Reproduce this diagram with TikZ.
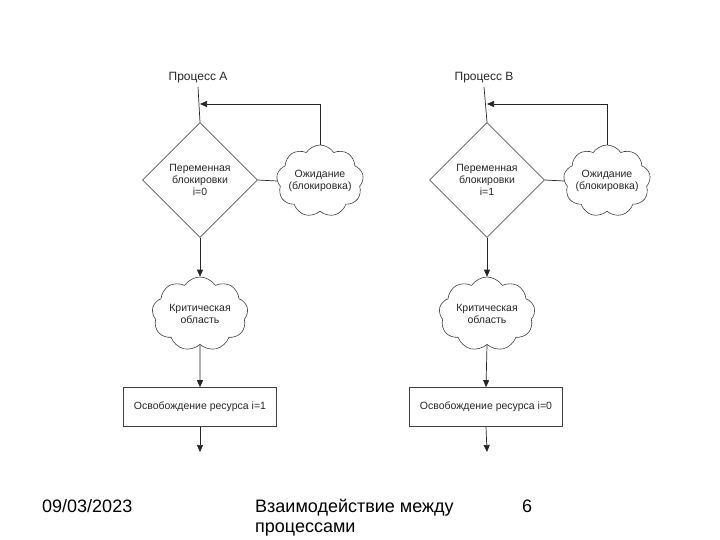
\documentclass[tikz,border=0pt]{standalone}
\usepackage{fontspec}
\setmainfont{Liberation Sans}
\usetikzlibrary{shapes.geometric,shapes.symbols,arrows.meta}
\begin{document}
\begin{tikzpicture}[x=1pt,y=-1pt,
  every node/.style={text=black!85},
  small/.style={font=\fontsize{10.5}{12}\selectfont},
  ttl/.style={font=\fontsize{12}{14}\selectfont},
  foot/.style={font=\fontsize{18}{20.5}\selectfont, inner sep=0pt, text=black},
  dia/.style={diamond, draw=black!65, line width=0.6pt, minimum width=115pt, minimum height=115pt, inner sep=0pt, align=center, small},
  cld/.style={cloud, draw=black!75, line width=0.6pt, cloud puffs=9, cloud puff arc=115, cloud ignores aspect, inner sep=0pt},
  box/.style={rectangle, draw=black!75, line width=0.6pt, minimum width=153pt, minimum height=39pt, inner sep=0pt, small},
  ln/.style={draw=black!85, line width=0.7pt},
  arr/.style={ln, -{Triangle[length=7pt,width=6pt]}}
]
\path[use as bounding box] (0,0) rectangle (720,540);

% Process A
\node[ttl] (tA) at (198,78) {Процесс A};
\node[dia] (dA) at (200,180) {Переменная\\блокировки\\i=0};
\node[cld, minimum width=87pt, minimum height=72pt,
  label={[small,align=center,text=black!85]center:Ожидание\\(блокировка)}] (wA) at (320,181) {};
\node[cld, minimum width=96pt, minimum height=74pt,
  label={[small,align=center,text=black!85]center:Критическая\\область}] (cA) at (200,314) {};
\node[box] (bA) at (200,407) {Освобождение ресурса i=1};
\coordinate (jA) at (200,104);
\coordinate (eA) at (200,452);
\draw[ln] (tA.south) -- (dA.north);
\draw[arr] (wA.north) |- (jA);
\draw[ln] (dA.east) -- (wA.west);
\draw[arr] (dA.south) -- (cA.north);
\draw[arr] (cA.south) -- (bA.north);
\draw[arr] (bA.south) -- (eA);

% Process B
\node[ttl] (tB) at (484,78) {Процесс B};
\node[dia] (dB) at (487,180) {Переменная\\блокировки\\i=1};
\node[cld, minimum width=87pt, minimum height=72pt,
  label={[small,align=center,text=black!85]center:Ожидание\\(блокировка)}] (wB) at (607,181) {};
\node[cld, minimum width=96pt, minimum height=74pt,
  label={[small,align=center,text=black!85]center:Критическая\\область}] (cB) at (487,314) {};
\node[box] (bB) at (486,407) {Освобождение ресурса i=0};
\coordinate (jB) at (487,104);
\coordinate (eB) at (487,452);
\draw[ln] (tB.south) -- (dB.north);
\draw[arr] (wB.north) |- (jB);
\draw[ln] (dB.east) -- (wB.west);
\draw[arr] (dB.south) -- (cB.north);
\draw[arr] (cB.south) -- (bB.north);
\draw[arr] (bB.south) -- (eB);

% Footer
\node[foot, anchor=base west] (date) at (42,512) {09/03/2023};
\node[foot, font=\fontsize{18}{20}\selectfont, anchor=base west, align=left] (ttlf) at (255,532) {Взаимодействие между\\процессами};
\node[foot, anchor=base west] (num) at (522,512) {6};
\end{tikzpicture}
\end{document}
